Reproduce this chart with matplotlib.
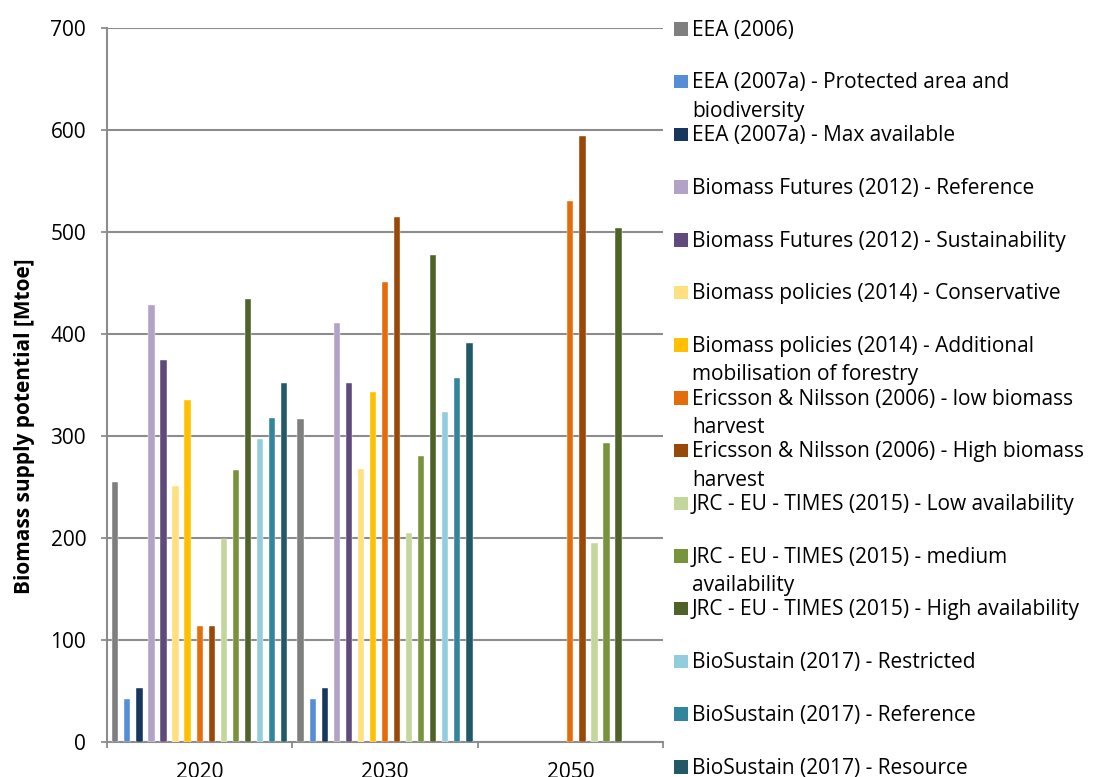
import numpy as np
import matplotlib
matplotlib.use("Agg")
import matplotlib.pyplot as plt
from matplotlib.patches import Rectangle

plt.rcParams['font.family'] = ['Open Sans', 'DejaVu Sans']

years = ["2020", "2030", "2050"]

series_labels = [
    "EEA (2006)",
    "EEA (2007a) - Protected area and\nbiodiversity",
    "EEA (2007a) - Max available",
    "Biomass Futures (2012) - Reference",
    "Biomass Futures (2012) - Sustainability",
    "Biomass policies (2014) - Conservative",
    "Biomass policies (2014) - Additional\nmobilisation of forestry",
    "Ericsson & Nilsson (2006) - low biomass\nharvest",
    "Ericsson & Nilsson (2006) - High biomass\nharvest",
    "JRC - EU - TIMES (2015) - Low availability",
    "JRC - EU - TIMES (2015) - medium\navailability",
    "JRC - EU - TIMES (2015) - High availability",
    "BioSustain (2017) - Restricted",
    "BioSustain (2017) - Reference",
    "BioSustain (2017) - Resource",
]

nan = np.nan
eea_2006 = [255, 317, nan]
eea_protected = [42, 42, nan]
eea_max = [53, 53, nan]
bf_reference = [428, 411, nan]
bf_sustainability = [375, 352, nan]
bp_conservative = [251, 268, nan]
bp_additional = [335, 343, nan]
en_low = [114, 451, 530]
en_high = [114, 515, 594]
jrc_low = [199, 205, 195]
jrc_medium = [267, 280, 293]
jrc_high = [434, 477, 504]
bs_restricted = [297, 324, nan]
bs_reference = [318, 357, nan]
bs_resource = [352, 391, nan]

values = [eea_2006, eea_protected, eea_max, bf_reference, bf_sustainability,
          bp_conservative, bp_additional, en_low, en_high, jrc_low, jrc_medium,
          jrc_high, bs_restricted, bs_reference, bs_resource]

colors = ["#7F7F7F", "#558ED5", "#17375E", "#B3A2C7", "#604A7B",
          "#FFE07F", "#FFC000", "#E46C0A", "#984807", "#C3D69B",
          "#77933C", "#4F6228", "#93CDDD", "#31859C", "#215968"]

W, H = 1093, 777
fig = plt.figure(figsize=(W / 100, H / 100), dpi=100)
ax = fig.add_axes([107 / W, 1 - 742 / H, (663 - 107) / W, (742 - 28) / H])

n = len(values)
slot = 12.1 / 186
bw = 6.3 / 186
x = np.arange(len(years))
for i, (vals, c) in enumerate(zip(values, colors)):
    ax.bar(x + (i - (n - 1) / 2) * slot, vals, width=bw, color=c,
           edgecolor='white', linewidth=0.3, zorder=3)

ax.set_xlim(-0.5, len(years) - 0.5)
ax.set_ylim(0, 700)
ax.set_yticks(np.arange(0, 701, 100))
ax.yaxis.grid(True, color='#8C8C8C', linewidth=1.5, zorder=0)
ax.set_axisbelow(True)

ax.set_xticks(x)
ax.set_xticklabels(years, fontsize=15)
ax.set_xticks(np.arange(-0.5, len(years)), minor=True)
ax.tick_params(axis='x', which='major', length=0, pad=14.5)
ax.tick_params(axis='x', which='minor', length=4.5, width=1.3, color='#8C8C8C', direction='out')
ax.tick_params(axis='y', length=4.5, width=1.3, color='#8C8C8C', labelsize=15, pad=10.5)

for s in ['top', 'right']:
    ax.spines[s].set_visible(False)
for s in ['left', 'bottom']:
    ax.spines[s].set_color('#8C8C8C')
    ax.spines[s].set_linewidth(1.5)

ax.set_ylabel("Biomass supply potential [Mtoe]", fontsize=15, fontweight='bold')
ax.yaxis.set_label_coords(-0.130, 0.443)

# legend drawn on the figure at fixed spacing like Excel
base0, step, line_h = 35.7, 52.7, 28.4
for i, (lab, c) in enumerate(zip(series_labels, colors)):
    yb = base0 + i * step
    fig.add_artist(Rectangle((674 / W, 1 - yb / H), 14 / W, 13.5 / H,
                             transform=fig.transFigure, facecolor=c, edgecolor='none'))
    for k, line in enumerate(lab.split("\n")):
        fig.text(692 / W, 1 - (yb + k * line_h) / H, line, fontsize=15,
                 va='baseline', ha='left', color='#000000')

fig.savefig("out.png", dpi=100)
